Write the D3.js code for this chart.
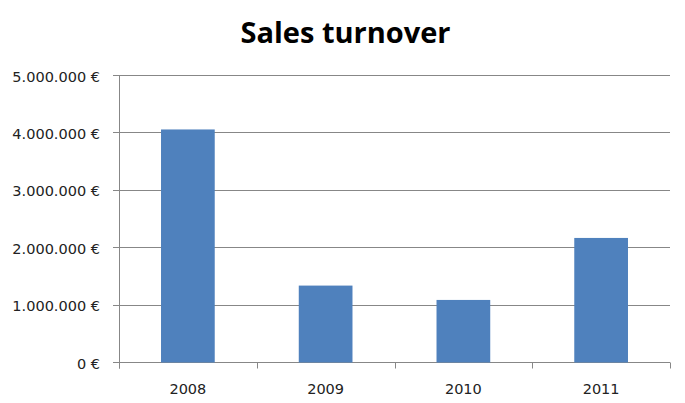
<!DOCTYPE html>
<html>
<head>
<meta charset="utf-8">
<script src="https://cdn.jsdelivr.net/npm/d3@7"></script>
<style>
  html, body { margin: 0; padding: 0; background: #fff; }
</style>
</head>
<body>
<div id="chart"></div>
<script>
(function() {
  // Chart data.
  var years = ["2008", "2009", "2010", "2011"];
  var turnover = [4060000, 1340000, 1090000, 2170000];
  var yTicks = [0, 1000000, 2000000, 3000000, 4000000, 5000000];

  var width = 685,
      height = 403;

  // Plot area.
  var left = 119, right = 670, top = 75.5, bottom = 362.5;

  var svg = d3.select("#chart")
    .append("svg")
      .attr("width", width)
      .attr("height", height);

  // Thousands separated by dots, as in the original.
  var locale = d3.formatLocale({ decimal: ",", thousands: ".", grouping: [3], currency: ["", "\u00a0€"] });
  var fmt = locale.format("$,.0f");

  var x = d3.scaleBand()
    .domain(years)
    .range([left, right])
    .paddingInner(0.61)
    .paddingOuter(0.305);

  var y = d3.scaleLinear()
    .domain([0, 5000000])
    .range([bottom, top]);

  var gridColor = "#878787";

  // Horizontal gridlines with small ticks to the left.
  svg.append("g")
    .selectAll("line")
    .data(yTicks)
    .enter()
    .append("line")
      .attr("x1", left - 6)
      .attr("x2", right)
      .attr("y1", function(d) { return Math.round(y(d) - 0.5) + 0.5; })
      .attr("y2", function(d) { return Math.round(y(d) - 0.5) + 0.5; })
      .attr("stroke", gridColor)
      .attr("stroke-width", 1);

  // Y labels.
  svg.append("g")
    .selectAll("text")
    .data(yTicks)
    .enter()
    .append("text")
      .attr("x", 100)
      .attr("y", function(d) { return y(d) + 1; })
      .attr("dy", "0.35em")
      .attr("text-anchor", "end")
      .style("font-family", "'DejaVu Sans', sans-serif")
      .style("font-size", "14.5px")
      .style("fill", "#222")
      .text(function(d) { return fmt(d); });

  // Bars.
  svg.append("g")
    .selectAll("rect")
    .data(years)
    .enter()
    .append("rect")
      .attr("x", function(d) { return x(d); })
      .attr("width", x.bandwidth())
      .attr("y", function(d, i) { return y(turnover[i]); })
      .attr("height", function(d, i) { return y(0) - y(turnover[i]); })
      .attr("fill", "#4f81bd");

  // Axis lines.
  svg.append("line")
    .attr("x1", left + 0.5).attr("x2", left + 0.5)
    .attr("y1", top).attr("y2", bottom + 6)
    .attr("stroke", gridColor);

  // Category boundary ticks below the x axis.
  var bounds = d3.range(years.length + 1).map(function(i) { return x.range()[0] + i * x.step(); });
  svg.append("g")
    .selectAll("line")
    .data(bounds)
    .enter()
    .append("line")
      .attr("x1", function(d) { return Math.round(d) + 0.5; })
      .attr("x2", function(d) { return Math.round(d) + 0.5; })
      .attr("y1", bottom)
      .attr("y2", bottom + 6)
      .attr("stroke", gridColor);

  // X labels.
  svg.append("g")
    .selectAll("text")
    .data(years)
    .enter()
    .append("text")
      .attr("x", function(d) { return x(d) + x.bandwidth() / 2; })
      .attr("y", 394)
      .attr("text-anchor", "middle")
      .style("font-family", "'DejaVu Sans', sans-serif")
      .style("font-size", "14.5px")
      .style("fill", "#222")
      .text(function(d) { return d; });

  // Title.
  svg.append("text")
    .attr("x", 345.5)
    .attr("y", 43.3)
    .attr("text-anchor", "middle")
    .style("font-family", "'Open Sans', sans-serif")
    .style("font-weight", "bold")
    .style("font-size", "29px")
    .style("fill", "#000")
    .text("Sales turnover");
})();
</script>
</body>
</html>
